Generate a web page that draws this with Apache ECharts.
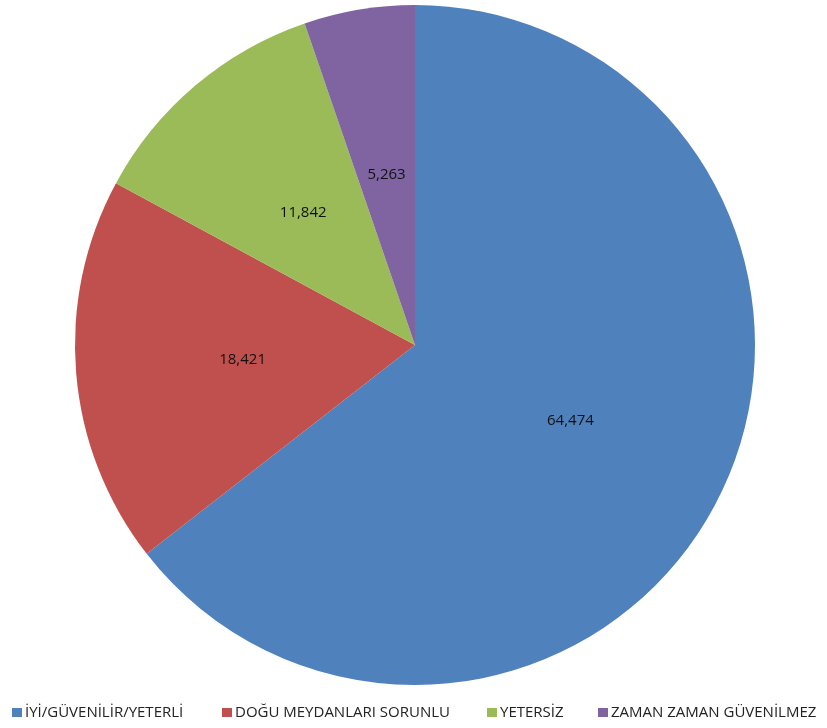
<!DOCTYPE html>
<html>
<head>
<meta charset="utf-8">
<script src="https://cdn.jsdelivr.net/npm/echarts@6/dist/echarts.min.js"></script>
<style>
html, body { margin: 0; padding: 0; background: #fff; }
#chart { width: 827px; height: 728px; }
</style>
</head>
<body>
<div id="chart"></div>
<script>
// Category names and their shares (percent)
const categories = ['İYİ/GÜVENİLİR/YETERLİ', 'DOĞU MEYDANLARI SORUNLU', 'YETERSİZ', 'ZAMAN ZAMAN GÜVENİLMEZ'];
const shares = [64.474, 18.421, 11.842, 5.263];
const colors = ['#4F81BD', '#C0504D', '#9BBB59', '#8064A2'];

// One legend block per entry so each can sit at its own x offset
const legendLefts = [12, 222, 487, 598];
const legends = categories.map((c, i) => ({
  left: legendLefts[i],
  top: 704,
  padding: 0,
  icon: 'rect',
  itemWidth: 10,
  itemHeight: 9,
  textStyle: { fontFamily: 'Open Sans', fontSize: 15, lineHeight: 17, color: '#222', padding: [0, 0, 0, -2] },
  data: [c]
}));

const chart = echarts.init(document.getElementById('chart'));
chart.setOption({
  animation: false,
  color: colors,
  legend: legends,
  series: [{
    type: 'pie',
    center: [415, 345],
    radius: [0, 340],
    startAngle: 90,
    clockwise: true,
    label: {
      position: 'inside',
      color: '#111',
      fontFamily: 'Open Sans',
      fontSize: 15,
      formatter: p => p.value.toFixed(3).replace('.', ',')
    },
    labelLine: { show: false },
    itemStyle: { borderWidth: 0 },
    data: categories.map((c, i) => ({ name: c, value: shares[i] }))
  }]
});
</script>
</body>
</html>
